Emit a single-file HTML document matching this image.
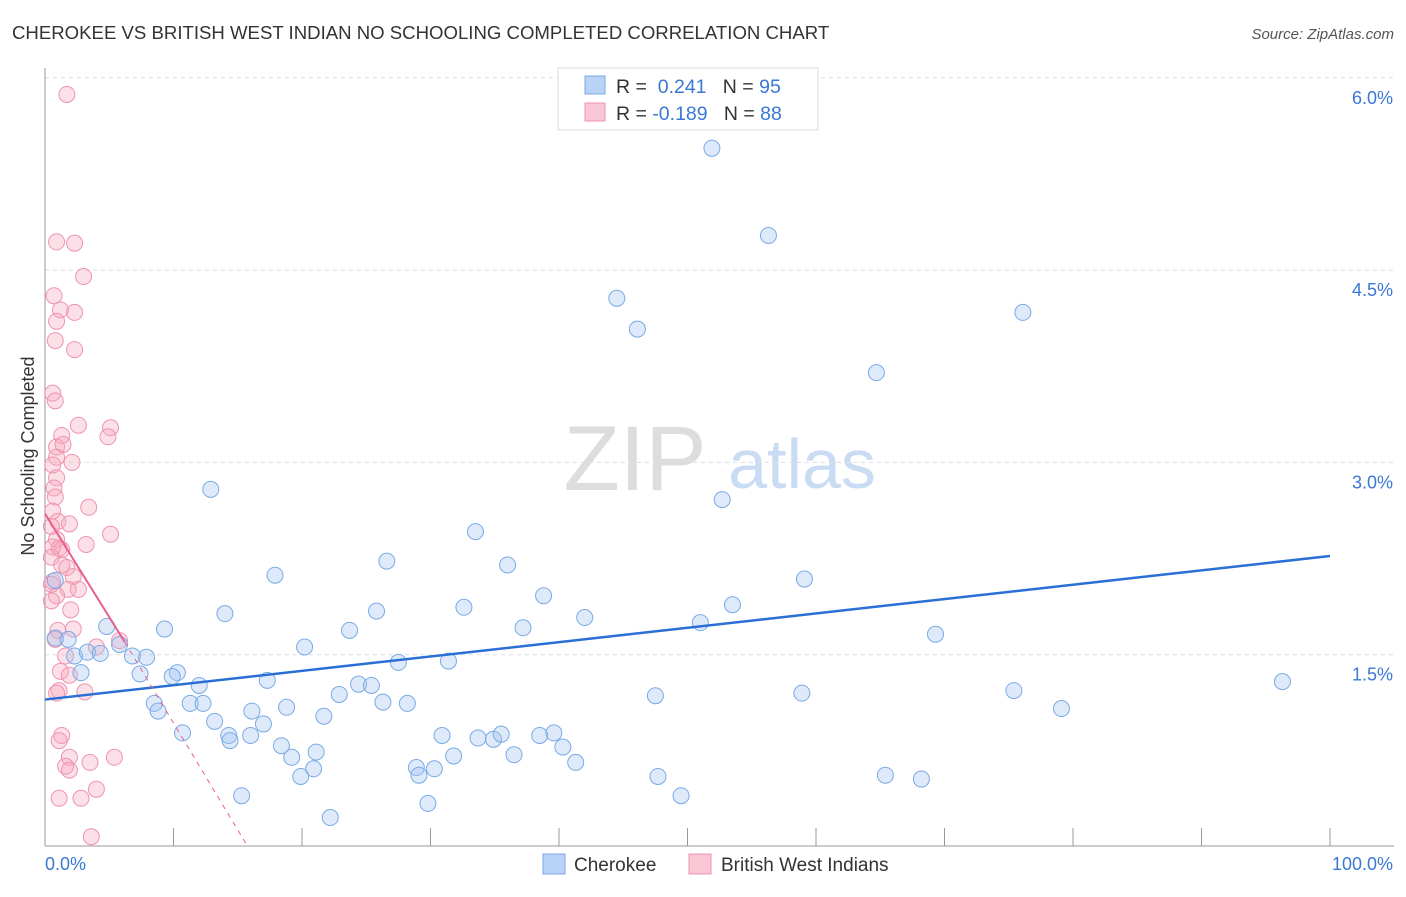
<!DOCTYPE html>
<html><head><meta charset="utf-8"><style>
body{margin:0;background:#fff;font-family:"Liberation Sans",sans-serif;}
svg text{font-family:"Liberation Sans",sans-serif;}
</style></head><body>
<svg id="chart" width="1406" height="892">
<text x="12" y="39" font-size="18.6" fill="#333">CHEROKEE VS BRITISH WEST INDIAN NO SCHOOLING COMPLETED CORRELATION CHART</text>
<text x="1394" y="39" font-size="15" fill="#555" font-style="italic" text-anchor="end">Source: ZipAtlas.com</text>
<text x="635" y="490" font-size="92" fill="#ddd" font-family="Liberation Serif" text-anchor="middle">ZIP</text>
<text x="802" y="488" font-size="70" fill="#c9dcf3" text-anchor="middle">atlas</text>
<g id="grid"></g><g id="axes"></g><g id="pts"></g><g id="trend"></g>
<text x="34" y="456" font-size="18" fill="#333" text-anchor="middle" transform="rotate(-90 34 456)">No Schooling Completed</text>
<g>
<rect x="558" y="68" width="260" height="62" fill="#fff" stroke="#ddd"/>
<rect x="585" y="76" width="20" height="18" fill="#b8d3f5" stroke="#7aaae5"/>
<rect x="585" y="103" width="20" height="18" fill="#f9c6d5" stroke="#ef93b0"/>
<text x="616" y="93" font-size="19.5" fill="#333">R = <tspan fill="#3a78d4">&#160;0.241</tspan>&#160;&#160;&#160;N = <tspan fill="#3a78d4">95</tspan></text>
<text x="616" y="120" font-size="19.5" fill="#333">R = <tspan fill="#3a78d4">-0.189</tspan>&#160;&#160;&#160;N = <tspan fill="#3a78d4">88</tspan></text>
</g>
<g>
<rect x="543" y="854" width="22" height="20" fill="#b8d3f5" stroke="#7aaae5"/>
<text x="574" y="871" font-size="19" fill="#333">Cherokee</text>
<rect x="689" y="854" width="22" height="20" fill="#f9c6d5" stroke="#ef93b0"/>
<text x="721" y="871" font-size="19" fill="#333">British West Indians</text>
</g>
</svg>
<script>
const yTicks=[1.5,3.0,4.5,6.0];
const xTickLabels=["0.0%","100.0%"];
const blueX=[51.9,56.3,44.5,46.1,76.1,64.7,12.9,52.7,33.5,26.6,36.0,17.9,59.1,38.8,32.6,25.8,14.0,53.5,42.0,51.0,37.2,23.7,9.3,69.3,4.8,0.8,1.8,5.8,20.2,2.3,3.3,4.3,6.8,7.9,27.5,31.4,2.8,7.4,10.3,9.9,17.3,12,96.3,75.4,24.4,25.4,47.5,58.9,22.9,26.3,28.2,8.5,11.3,12.3,18.8,79.1,8.8,16.1,21.7,13.2,17,10.7,14.3,30.9,14.4,16,38.5,39.6,33.7,34.9,35.5,18.4,21.1,40.3,31.8,36.5,19.2,28.9,30.3,41.3,20.9,29.1,19.9,47.7,65.4,68.2,49.5,15.3,29.8,22.2,0.8];
const blueY=[5.45,4.77,4.28,4.04,4.17,3.7,2.79,2.71,2.46,2.23,2.2,2.12,2.09,1.96,1.87,1.84,1.82,1.89,1.79,1.75,1.71,1.69,1.7,1.66,1.72,1.63,1.62,1.58,1.56,1.49,1.52,1.51,1.49,1.48,1.44,1.45,1.36,1.35,1.36,1.33,1.3,1.26,1.29,1.22,1.27,1.26,1.18,1.2,1.19,1.13,1.12,1.12,1.12,1.12,1.09,1.08,1.06,1.06,1.02,0.98,0.96,0.89,0.87,0.87,0.83,0.87,0.87,0.89,0.85,0.84,0.88,0.79,0.74,0.78,0.71,0.72,0.7,0.62,0.61,0.66,0.61,0.56,0.55,0.55,0.56,0.53,0.4,0.4,0.34,0.23,2.08];
const pinkX=[1.7,0.9,2.3,3,0.7,1.2,2.3,0.9,0.8,2.3,0.6,0.8,5.1,2.6,1.3,4.9,0.9,1.4,0.9,2.1,0.6,0.9,0.7,0.8,3.4,0.6,1,1.9,0.5,5.1,0.9,3.2,0.6,1.1,1.3,0.5,1.3,1.7,2.2,0.6,2.6,1.8,0.9,0.5,2,2.2,1,4,1.6,5.8,1.2,1.9,1.1,0.9,3.1,1.3,1.1,5.4,3.5,1.9,1.6,1.9,4.0,1.1,2.8,3.6,0.5,0.8];
const pinkY=[5.87,4.72,4.71,4.45,4.3,4.19,4.17,4.1,3.95,3.88,3.54,3.48,3.27,3.29,3.21,3.2,3.12,3.14,3.04,3.0,2.98,2.88,2.8,2.73,2.65,2.62,2.54,2.52,2.5,2.44,2.4,2.36,2.34,2.33,2.32,2.26,2.2,2.18,2.11,2.07,2.01,2.01,1.96,1.92,1.85,1.7,1.69,1.56,1.49,1.61,1.37,1.34,1.22,1.2,1.21,0.87,0.83,0.7,0.66,0.7,0.63,0.6,0.45,0.38,0.38,0.08,2.05,1.62];
const X=v=>45+v/100*1285, Y=v=>847-v*128.2;
const NS="http://www.w3.org/2000/svg";
function mk(p,t,a){const e=document.createElementNS(NS,t);for(const k in a)e.setAttribute(k,a[k]);document.getElementById(p).appendChild(e);return e;}
yTicks.forEach(t=>{
 const l=mk('grid','line',{x1:45,x2:1394,y1:Y(t),y2:Y(t),stroke:'#ddd','stroke-dasharray':'4 4'});
 
 
 const tx=mk('grid','text',{x:1393,y:Y(t)+26,'font-size':18,fill:'#3a78d4','text-anchor':'end'});tx.textContent=t.toFixed(1)+'%';
 
 
});
mk('axes','line',{x1:45,x2:45,y1:68,y2:846,stroke:'#999'});
mk('axes','line',{x1:45,x2:1394,y1:846,y2:846,stroke:'#999'});
for(let i=0;i<=10;i++){mk('axes','line',{x1:X(i*10),x2:X(i*10),y1:828,y2:846,stroke:'#999'});}
const xl=mk('axes','text',{x:45,y:870,'font-size':18,fill:'#3a78d4'});xl.textContent=xTickLabels[0];


const xr=mk('axes','text',{x:1393,y:870,'font-size':18,fill:'#3a78d4','text-anchor':'end'});xr.textContent=xTickLabels[1];


pinkX.forEach((v,i)=>{const c=mk('pts','circle',{cx:X(v),cy:Y(pinkY[i]),r:8,fill:'rgba(246,165,190,0.35)',stroke:'#ef93b0','stroke-width':1});
 
 });
blueX.forEach((v,i)=>{const c=mk('pts','circle',{cx:X(v),cy:Y(blueY[i]),r:8,fill:'rgba(160,195,240,0.35)',stroke:'#7aaae5','stroke-width':1});
 
 });
const bt=mk('trend','line',{x1:X(0),y1:Y(1.15),x2:X(100),y2:Y(2.27),stroke:'#2a6fd6','stroke-width':2.5});


const pt=mk('trend','line',{x1:X(0),y1:Y(2.6),x2:X(6.2),y2:Y(1.6),stroke:'#e8608c','stroke-width':2});


const pd=mk('trend','line',{x1:X(6.2),y1:Y(1.6),x2:X(15.8),y2:Y(0),stroke:'#e8608c','stroke-width':1,'stroke-dasharray':'5 5'});


</script>
</body></html>
